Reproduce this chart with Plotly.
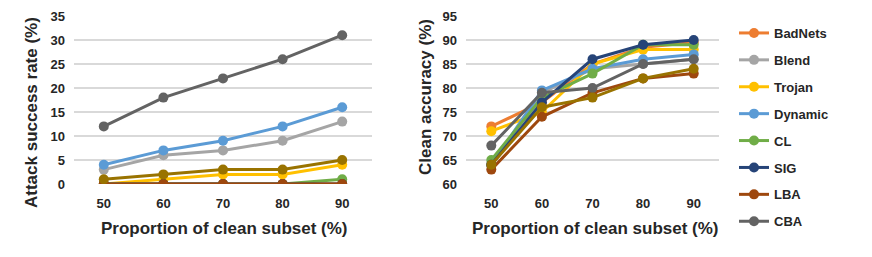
import plotly.graph_objects as go

x_vals = [50, 60, 70, 80, 90]
x_labels = ["50", "60", "70", "80", "90"]

series_names = ["BadNets", "Blend", "Trojan", "Dynamic", "CL", "SIG", "LBA", "CBA", "Other"]
colors = ["#ED7D31", "#A5A5A5", "#FFC000", "#5B9BD5", "#70AD47", "#264478", "#9E480E", "#636363", "#997300"]
in_legend = [True, True, True, True, True, True, True, True, False]

# Attack success rate (%)
asr_badnets = [0, 0, 0, 0, 0]
asr_blend = [3, 6, 7, 9, 13]
asr_trojan = [0, 1, 2, 2, 4]
asr_dynamic = [4, 7, 9, 12, 16]
asr_cl = [0, 0, 0, 0, 1]
asr_sig = [0, 0, 0, 0, 0]
asr_lba = [0, 0, 0, 0, 0]
asr_cba = [12, 18, 22, 26, 31]
asr_other = [1, 2, 3, 3, 5]

# Clean accuracy (%)
acc_badnets = [72, 77, 85, 88.5, 89.5]
acc_blend = [64, 79, 84, 85, 86]
acc_trojan = [71, 75, 85, 88, 88]
acc_dynamic = [64, 79.5, 84, 86, 87]
acc_cl = [65, 78, 83, 89, 89]
acc_sig = [64, 77, 86, 89, 90]
acc_lba = [63, 74, 79, 82, 83]
acc_cba = [68, 79, 80, 85, 86]
acc_other = [64, 76, 78, 82, 84]

asr = [asr_badnets, asr_blend, asr_trojan, asr_dynamic, asr_cl, asr_sig, asr_lba, asr_cba, asr_other]
acc = [acc_badnets, acc_blend, acc_trojan, acc_dynamic, acc_cl, acc_sig, acc_lba, acc_cba, acc_other]

W, H = 872, 257
OFF = 8  # page body margin
FONT = "Liberation Sans"
TXT = "#262626"


def px(x):
    return (x - OFF) / W


def py(y):
    return 1 - (y - OFF) / H


fig = go.Figure()

for i, name in enumerate(series_names):
    fig.add_trace(go.Scatter(
        x=x_vals, y=asr[i], name=name, mode="lines+markers",
        line=dict(color=colors[i], width=3), marker=dict(color=colors[i], size=10),
        xaxis="x", yaxis="y", showlegend=False))
for i, name in enumerate(series_names):
    fig.add_trace(go.Scatter(
        x=x_vals, y=acc[i], name=name, mode="lines+markers",
        line=dict(color=colors[i], width=3), marker=dict(color=colors[i], size=10),
        xaxis="x2", yaxis="y2", showlegend=in_legend[i], legendgroup=name))

ydom = [py(184), py(16)]
tickfont = dict(family=FONT, size=13, color=TXT, weight="bold")
xaxis_common = dict(showline=False, zeroline=False, ticks="", tickfont=tickfont,
                    showgrid=False, range=[45, 95], tickvals=x_vals, ticktext=x_labels,
                    ticklabelstandoff=10)
yaxis_common = dict(showline=False, zeroline=False, ticks="", tickfont=tickfont,
                    dtick=5, showgrid=True, gridcolor="#D9D9D9", gridwidth=1.5,
                    ticklabelstandoff=8)

title_font = dict(family=FONT, size=17, color=TXT, weight="bold")

fig.update_layout(
    width=W, height=H, margin=dict(l=0, r=0, t=0, b=0, autoexpand=False),
    paper_bgcolor="white", plot_bgcolor="white",
    font=dict(family=FONT, color=TXT),
    xaxis=dict(domain=[px(74), px(372)], anchor="y", **xaxis_common),
    yaxis=dict(domain=ydom, range=[0, 35], anchor="x", **yaxis_common),
    xaxis2=dict(domain=[px(466), px(719)], anchor="y2", **xaxis_common),
    yaxis2=dict(domain=ydom, range=[60, 95], anchor="x2", **yaxis_common),
    legend=dict(x=px(734), y=py(18), xanchor="left", yanchor="top",
                font=dict(family=FONT, size=13, color=TXT, weight="bold"),
                tracegroupgap=7, itemwidth=30, bgcolor="rgba(0,0,0,0)"),
    annotations=[
        dict(text="Attack success rate (%)", x=px(31), y=py(113), xref="paper", yref="paper",
             xanchor="center", yanchor="middle",
             textangle=-90, showarrow=False, font=title_font),
        dict(text="Clean accuracy (%)", x=px(425), y=py(97), xref="paper", yref="paper",
             xanchor="center", yanchor="middle",
             textangle=-90, showarrow=False, font=title_font),
        dict(text="Proportion of clean subset (%)", x=px(224), y=py(228), xref="paper", yref="paper",
             xanchor="center", yanchor="middle", showarrow=False, font=title_font),
        dict(text="Proportion of clean subset (%)", x=px(595), y=py(228), xref="paper", yref="paper",
             xanchor="center", yanchor="middle", showarrow=False, font=title_font),
    ],
)

fig.write_html("out.html")
